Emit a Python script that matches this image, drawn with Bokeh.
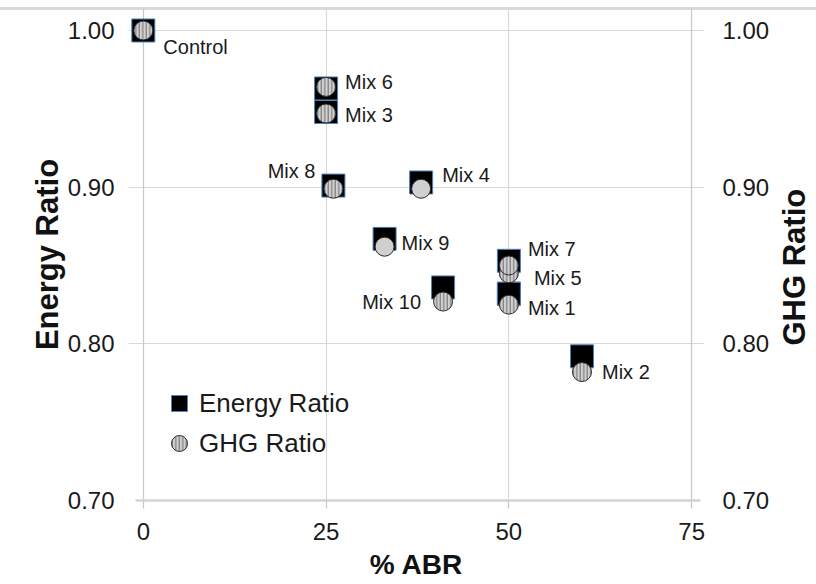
from bokeh.plotting import figure
from bokeh.layouts import row
from bokeh.models import (ColumnDataSource, FixedTicker, Grid, Range1d, Legend,
                          LegendItem, NumeralTickFormatter, LinearAxis, Title)
from bokeh.embed import file_html
from bokeh.resources import INLINE
from bokeh.core.properties import value

# ---- data ----
mixes = ["Control", "Mix 1", "Mix 2", "Mix 3", "Mix 4", "Mix 5",
         "Mix 6", "Mix 7", "Mix 8", "Mix 9", "Mix 10"]
abr_pct = [0, 50, 60, 25, 38, 50, 25, 50, 26, 33, 41]
energy_ratio = [1.000, 0.832, 0.792, 0.948, 0.903, 0.832, 0.963, 0.853, 0.901, 0.867, 0.836]
ghg_ratio = [1.000, 0.825, 0.782, 0.947, 0.899, 0.845, 0.964, 0.850, 0.899, 0.862, 0.827]
x_ticks = [0, 25, 50, 75]
y_ticks = [0.70, 0.80, 0.90, 1.00]

# ---- styling (label placement in screen pixels, hatch per marker) ----
label_dx = [20, 19, 20, 19, 21, 25, 19, 19, -18, 17, -22]
label_dy = [17, 3, 0, 1, -14, 5, -5, -16, -18, -4, 0]
label_align = ["left", "left", "left", "left", "left", "left", "left", "left", "right", "left", "right"]
ghg_hatch = ["|", "|", "|", "|", " ", "|", "|", "|", "|", " ", "|"]

FONT = "Liberation Sans"
TOPLINE = {"background": "linear-gradient(to bottom, #ffffff 0px, #ffffff 7px, #d9d9d9 7px, "
                         "#d9d9d9 10px, #ffffff 10px, #ffffff 100%)"}

src = ColumnDataSource(dict(x=abr_pct, e=energy_ratio, g=ghg_ratio, name=mixes,
                            dx=label_dx, dy=label_dy, align=label_align, hatch=ghg_hatch))

p = figure(width=772, height=584, output_backend="svg", toolbar_location=None,
           x_range=Range1d(-2.027, 76.757), y_range=Range1d(0.70, 1.01404),
           min_border_left=128, min_border_right=61, min_border_top=8, min_border_bottom=84)
p.outline_line_color = None
p.grid.visible = False
p.border_fill_color = None
p.background_fill_color = None
p.styles = TOPLINE

# gridlines (also used to draw the axis lines and their short tick marks)
gcol = "#d9d9d9"
p.add_layout(Grid(dimension=1, ticker=FixedTicker(ticks=y_ticks[1:]), bounds=(-1.1, 76.2),
                  grid_line_color=gcol, grid_line_width=1.2))
p.add_layout(Grid(dimension=0, ticker=FixedTicker(ticks=x_ticks[1:3]), bounds=(0.70, 1.0),
                  grid_line_color=gcol, grid_line_width=1.2))
p.add_layout(Grid(dimension=0, ticker=FixedTicker(ticks=[x_ticks[0], x_ticks[-1]]), bounds=(0.70, 1.0),
                  grid_line_color="#c8c8c8", grid_line_width=1.2))

# axes
def style_axis(ax, standoff):
    ax.axis_line_color = None
    ax.major_tick_line_color = None
    ax.minor_tick_line_color = None
    ax.major_label_text_font = FONT
    ax.major_label_text_font_size = "24px"
    ax.major_label_text_color = "#1a1a1a"
    ax.major_label_standoff = standoff
    ax.axis_label_text_font = FONT
    ax.axis_label_text_font_style = "bold"
    ax.axis_label_text_color = "#111111"

xa = p.xaxis[0]
xa.ticker = FixedTicker(ticks=x_ticks)
xa.formatter = NumeralTickFormatter(format="0")
style_axis(xa, 14)
xa.axis_line_color = "#d4d4d4"
xa.axis_line_width = 2.5
xa.bounds = (-1.1, 76.2)
xa.major_tick_line_color = "#c8c8c8"
xa.major_tick_line_width = 1.2
xa.major_tick_in = 0
xa.major_tick_out = 8
xa.axis_label = "% ABR"
xa.axis_label_text_font_size = "28px"
xa.axis_label_standoff = 6

ya = p.yaxis[0]
ya.ticker = FixedTicker(ticks=y_ticks)
ya.formatter = NumeralTickFormatter(format="0.00")
style_axis(ya, 8)
ya.bounds = (0.70, 1.00)
ya.axis_label = "Energy Ratio"
ya.axis_label_text_font_size = "31px"
ya.axis_label_standoff = 0

ra = LinearAxis(ticker=FixedTicker(ticks=y_ticks), formatter=NumeralTickFormatter(format="0.00"))
style_axis(ra, 12)
p.add_layout(ra, "right")

# markers
sq = p.scatter("x", "e", source=src, marker="square", size=23, fill_color="black",
               line_color="#4f81bd", line_width=1)
ci = p.scatter("x", "g", source=src, marker="circle", size=19, fill_color="#d0d0d0",
               line_color="#2a2a2a", line_width=1, hatch_pattern="hatch",
               hatch_color="#6a6a6a", hatch_scale=3.5, hatch_weight=1)

# data labels
p.text("x", "g", text="name", source=src, x_offset="dx", y_offset="dy", text_align="align",
       text_baseline="middle", text_font=value(FONT), text_font_size="20px", text_color="#1a1a1a")

legend = Legend(items=[LegendItem(label="Energy Ratio", renderers=[sq]),
                       LegendItem(label="GHG Ratio", renderers=[ci])],
                location=(31, 37), glyph_width=40, glyph_height=40, label_standoff=0,
                padding=0, margin=0, spacing=0, border_line_color=None,
                background_fill_alpha=0, label_text_font=FONT, label_text_font_size="26px",
                label_text_color="#1a1a1a", label_height=40)
p.add_layout(legend)

# narrow companion figure that carries the right-hand title "GHG Ratio" (read bottom-to-top)
p2 = figure(width=44, height=584, output_backend="svg", toolbar_location=None,
            x_range=Range1d(0, 1), y_range=Range1d(0, 1),
            x_axis_location=None, y_axis_location=None,
            min_border_left=40, min_border_right=0, min_border_top=8, min_border_bottom=84)
p2.outline_line_color = None
p2.grid.visible = False
p2.border_fill_color = None
p2.background_fill_color = None
p2.styles = TOPLINE
p2.add_layout(Title(text="GHG Ratio", align="left", offset=155, vertical_align="middle",
                    standoff=0, text_font=FONT, text_font_style="bold", text_font_size="31px",
                    text_color="#111111"), "left")

layout = row(p, p2, spacing=0)
open("out.html", "w").write(file_html(layout, INLINE))
